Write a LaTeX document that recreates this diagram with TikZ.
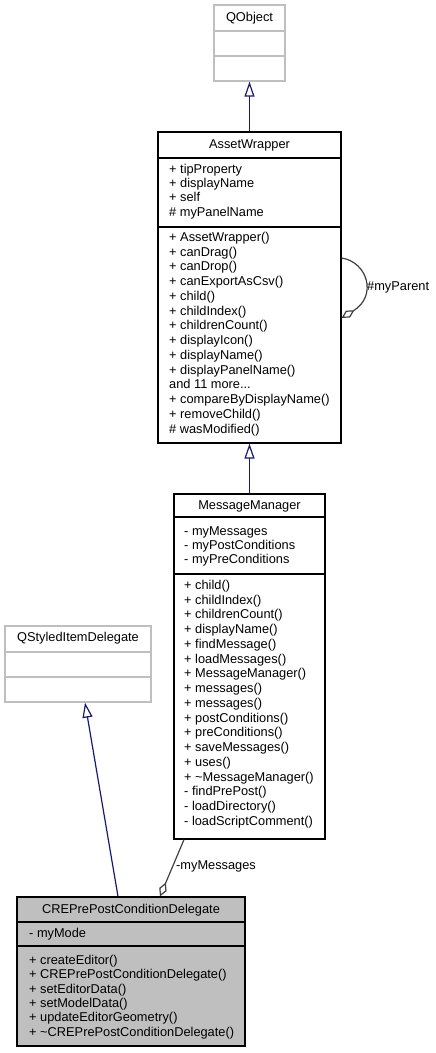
\documentclass[tikz,border=0pt]{standalone}
\usepackage{fontspec}
\setmainfont{Liberation Sans}
\usepackage{tikz}
\usetikzlibrary{arrows.meta}
\definecolor{ink}{HTML}{000000}
\definecolor{edge}{HTML}{191970}
\definecolor{assoc}{HTML}{404040}
\definecolor{extern}{HTML}{BFBFBF}
\definecolor{current}{HTML}{BFBFBF}
\newcommand\moreops{and 11 more...}
\tikzset{
  cls/.style={draw=ink, line width=1.2pt, inner sep=0pt},
  ext/.style={draw=extern, line width=1.2pt, inner sep=0pt},
  cur/.style={draw=ink, fill=current, line width=1.2pt, inner sep=0pt},
  sep/.style={draw=ink, line width=1.2pt},
  sepx/.style={draw=extern, line width=1.2pt},
  title/.style={text=ink, font=\fontsize{12.8}{15}\selectfont, inner sep=0pt, text height=9.2pt, text depth=2.7pt},
  member/.style={title, anchor=west},
  lab/.style={title, anchor=west},
  inherit/.style={draw=edge, line width=1.2pt, -{Triangle[open, length=15pt, width=10pt]}},
  agg/.style={draw=assoc, line width=1.2pt, -{Diamond[open, length=15pt, width=8pt]}},
}
\begin{document}
\begin{tikzpicture}[x=1pt, y=-1pt]
  \useasboundingbox (0,0) rectangle (436,1053);

  % class boxes
  \node[ext, minimum width=71pt, minimum height=76pt] (qobject) at (249.5,43) {};
  \node[cls, minimum width=183pt, minimum height=311pt] (asset) at (249.5,287.5) {};
  \node[cls, minimum width=151pt, minimum height=345pt] (msgmgr) at (249.5,666.5) {};
  \node[ext, minimum width=146pt, minimum height=76pt] (qstyled) at (78,664) {};
  \node[cur, minimum width=228pt, minimum height=149pt] (cre) at (131,971.5) {};

  % compartments
  \draw[sepx] (qobject.west |- 0,31) -- (qobject.east |- 0,31);
  \draw[sepx] (qobject.west |- 0,56) -- (qobject.east |- 0,56);
  \draw[sep] (asset.west |- 0,158) -- (asset.east |- 0,158);
  \draw[sep] (asset.west |- 0,227) -- (asset.east |- 0,227);
  \draw[sep] (msgmgr.west |- 0,517) -- (msgmgr.east |- 0,517);
  \draw[sep] (msgmgr.west |- 0,574) -- (msgmgr.east |- 0,574);
  \draw[sepx] (qstyled.west |- 0,652) -- (qstyled.east |- 0,652);
  \draw[sepx] (qstyled.west |- 0,677) -- (qstyled.east |- 0,677);
  \draw[sep] (cre.west |- 0,922) -- (cre.east |- 0,922);
  \draw[sep] (cre.west |- 0,946) -- (cre.east |- 0,946);

  % titles
  \node[title] (qobject-t) at (249.5,18) {QObject};
  \node[title] (asset-t) at (249.5,145) {AssetWrapper};
  \node[title] (msgmgr-t) at (249.5,506) {MessageManager};
  \node[title] (qstyled-t) at (78,638) {QStyledItemDelegate};
  \node[title] (cre-t) at (131,910) {CREPrePostConditionDelegate};

  % members
  \foreach \t [count=\i from 0] in {+ tipProperty, + displayName, + self, \# myPanelName}
    \node[member] (asset-a\i) at (169,170+\i*14.33) {\t};
  \foreach \t [count=\i from 0] in {+ AssetWrapper(), + canDrag(), + canDrop(),
      + canExportAsCsv(), + child(), + childIndex(), + childrenCount(), + displayIcon(),
      + displayName(), + displayPanelName(), \moreops, + compareByDisplayName(),
      + removeChild(), \# wasModified()}
    \node[member] (asset-o\i) at (169,238+\i*14.77) {\t};
  \foreach \t [count=\i from 0] in {- myMessages, - myPostConditions, - myPreConditions}
    \node[member] (msgmgr-a\i) at (184,532+\i*14) {\t};
  \foreach \t [count=\i from 0] in {+ child(), + childIndex(), + childrenCount(),
      + displayName(), + findMessage(), + loadMessages(), + MessageManager(),
      + messages(), + messages(), + postConditions(), + preConditions(),
      + saveMessages(), + uses(), + \textasciitilde MessageManager(), - findPrePost(),
      - loadDirectory(), - loadScriptComment()}
    \node[member] (msgmgr-o\i) at (184,586+\i*14.75) {\t};
  \node[member] (cre-a0) at (29,934) {- myMode};
  \foreach \t [count=\i from 0] in {+ createEditor(), + CREPrePostConditionDelegate(),
      + setEditorData(), + setModelData(), + updateEditorGeometry(),
      + \textasciitilde CREPrePostConditionDelegate()}
    \node[member] (cre-o\i) at (29,961+\i*14.4) {\t};

  % relations
  \draw[inherit] (asset) -- (qobject);
  \draw[inherit] (msgmgr) -- (asset);
  \draw[inherit] ([xshift=-13pt]cre.north) -- ([xshift=7pt]qstyled.south);
  \draw[agg] ([xshift=-65.5pt]msgmgr.south) -- ([xshift=29pt]cre.north);
  \draw[agg] ([yshift=29.5pt]asset.east) .. controls +(26,4) and +(36,-22) .. ([yshift=-30.5pt]asset.east);
  \node[lab] (myparent) at (367,287) {\#myParent};
  \node[lab] (mymessages) at (176,866) {-myMessages};
\end{tikzpicture}
\end{document}
